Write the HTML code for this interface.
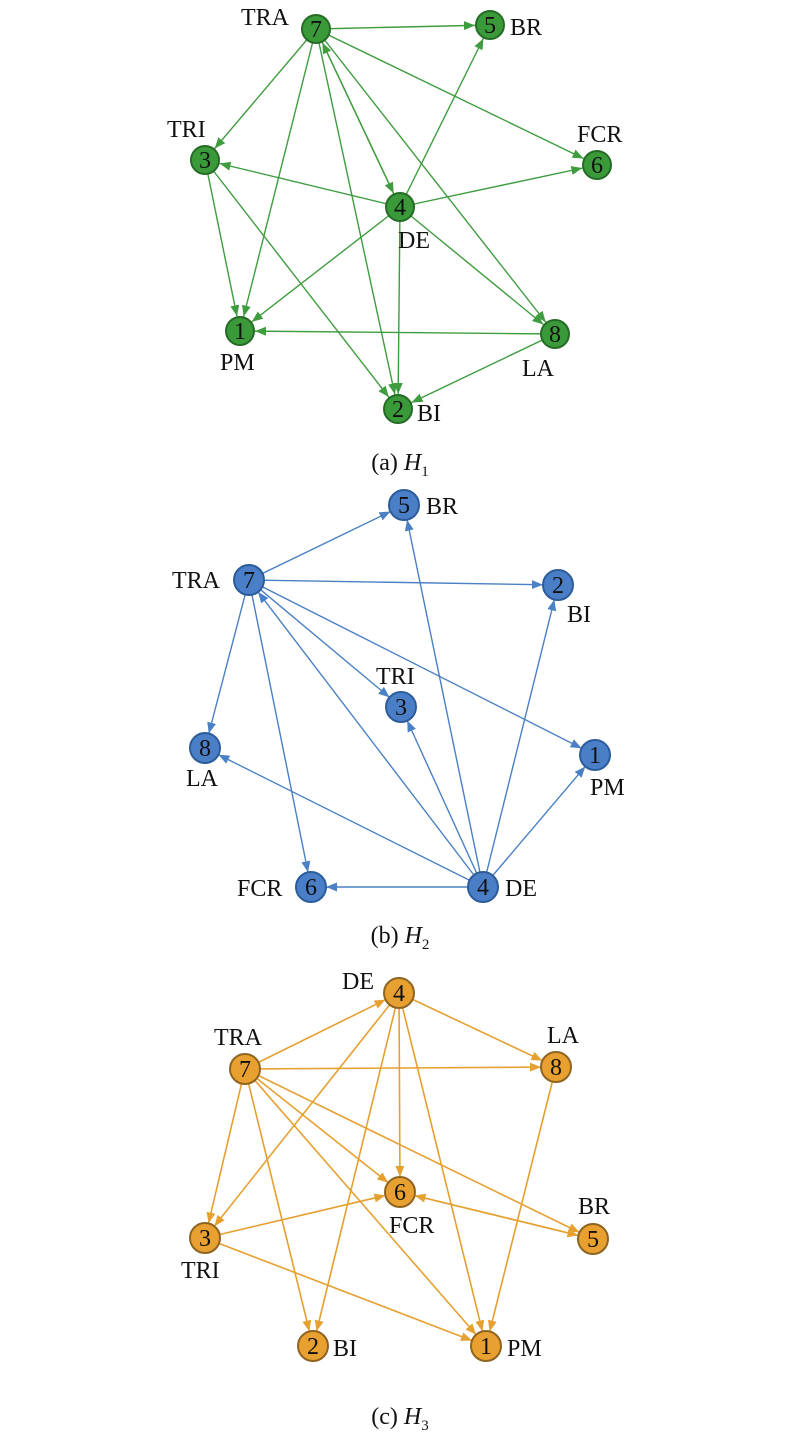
<!DOCTYPE html>
<html><head><meta charset="utf-8"><style>
html,body{margin:0;padding:0;background:#fff;}
svg{display:block;font-family:"Liberation Serif",serif;}
.g line{stroke:#3f9c3f;stroke-width:1.4;marker-end:url(#ag)}
.b line{stroke:#4a80c4;stroke-width:1.4;marker-end:url(#ab)}
.o line{stroke:#e6a030;stroke-width:1.6;marker-end:url(#ao)}
.g circle{fill:#3a9a3a;stroke:#256b25;stroke-width:2}
.b circle{fill:#4a7fc8;stroke:#2c5c9a;stroke-width:2}
.o circle{fill:#e8a030;stroke:#8f6420;stroke-width:2}
text{font-size:24px;fill:#111}
.n{text-anchor:middle;dominant-baseline:central;font-size:24px}
.c{text-anchor:middle}
</style></head><body>
<svg width="800" height="1441" viewBox="0 0 800 1441">
<defs>
<marker id="ag" markerUnits="userSpaceOnUse" markerWidth="40" markerHeight="12" refX="26" refY="4.5" orient="auto"><path d="M0,0 L11,4.5 L0,9 z" fill="#3f9c3f"/></marker>
<marker id="ab" markerUnits="userSpaceOnUse" markerWidth="40" markerHeight="12" refX="26" refY="4.5" orient="auto"><path d="M0,0 L11,4.5 L0,9 z" fill="#4a80c4"/></marker>
<marker id="ao" markerUnits="userSpaceOnUse" markerWidth="40" markerHeight="12" refX="26" refY="4.5" orient="auto"><path d="M0,0 L11,4.5 L0,9 z" fill="#e6a030"/></marker>
</defs>

<!-- H1 -->
<g class="g">
<line x1="316" y1="29" x2="490" y2="25"/>
<line x1="316" y1="29" x2="205" y2="160"/>
<line x1="316" y1="29" x2="240" y2="331"/>
<line x1="316" y1="29" x2="398" y2="409"/>
<line x1="316" y1="29" x2="400" y2="207"/>
<line x1="400" y1="207" x2="316" y2="29"/>
<line x1="316" y1="29" x2="597" y2="165"/>
<line x1="316" y1="29" x2="555" y2="334"/>
<line x1="400" y1="207" x2="490" y2="25"/>
<line x1="400" y1="207" x2="205" y2="160"/>
<line x1="400" y1="207" x2="597" y2="165"/>
<line x1="400" y1="207" x2="240" y2="331"/>
<line x1="400" y1="207" x2="398" y2="409"/>
<line x1="400" y1="207" x2="555" y2="334"/>
<line x1="205" y1="160" x2="240" y2="331"/>
<line x1="205" y1="160" x2="398" y2="409"/>
<line x1="555" y1="334" x2="240" y2="331"/>
<line x1="555" y1="334" x2="398" y2="409"/>
<circle cx="316" cy="29" r="14"/><text class="n" x="316" y="30">7</text>
<circle cx="490" cy="25" r="14"/><text class="n" x="490" y="26">5</text>
<circle cx="205" cy="160" r="14"/><text class="n" x="205" y="161">3</text>
<circle cx="597" cy="165" r="14"/><text class="n" x="597" y="166">6</text>
<circle cx="400" cy="207" r="14"/><text class="n" x="400" y="208">4</text>
<circle cx="240" cy="331" r="14"/><text class="n" x="240" y="332">1</text>
<circle cx="555" cy="334" r="14"/><text class="n" x="555" y="335">8</text>
<circle cx="398" cy="409" r="14"/><text class="n" x="398" y="410">2</text>
</g>
<text x="241" y="25">TRA</text>
<text x="510" y="35">BR</text>
<text x="167" y="137">TRI</text>
<text x="577" y="142">FCR</text>
<text x="398" y="248">DE</text>
<text x="220" y="370">PM</text>
<text x="522" y="376">LA</text>
<text x="417" y="421">BI</text>
<text class="c" x="400" y="470">(a) <tspan font-style="italic">H</tspan><tspan font-size="15" dy="6">1</tspan></text>

<!-- H2 -->
<g class="b">
<line x1="249" y1="580" x2="404" y2="505"/>
<line x1="249" y1="580" x2="558" y2="585"/>
<line x1="249" y1="580" x2="401" y2="707"/>
<line x1="249" y1="580" x2="595" y2="755"/>
<line x1="249" y1="580" x2="205" y2="748"/>
<line x1="249" y1="580" x2="311" y2="887"/>
<line x1="483" y1="887" x2="249" y2="580"/>
<line x1="483" y1="887" x2="404" y2="505"/>
<line x1="483" y1="887" x2="558" y2="585"/>
<line x1="483" y1="887" x2="401" y2="707"/>
<line x1="483" y1="887" x2="595" y2="755"/>
<line x1="483" y1="887" x2="205" y2="748"/>
<line x1="483" y1="887" x2="311" y2="887"/>
<circle cx="404" cy="505" r="15"/><text class="n" x="404" y="506">5</text>
<circle cx="249" cy="580" r="15"/><text class="n" x="249" y="581">7</text>
<circle cx="558" cy="585" r="15"/><text class="n" x="558" y="586">2</text>
<circle cx="401" cy="707" r="15"/><text class="n" x="401" y="708">3</text>
<circle cx="205" cy="748" r="15"/><text class="n" x="205" y="749">8</text>
<circle cx="595" cy="755" r="15"/><text class="n" x="595" y="756">1</text>
<circle cx="311" cy="887" r="15"/><text class="n" x="311" y="888">6</text>
<circle cx="483" cy="887" r="15"/><text class="n" x="483" y="888">4</text>
</g>
<text x="426" y="514">BR</text>
<text x="172" y="588">TRA</text>
<text x="567" y="622">BI</text>
<text x="376" y="684">TRI</text>
<text x="186" y="786">LA</text>
<text x="590" y="795">PM</text>
<text x="237" y="896">FCR</text>
<text x="505" y="896">DE</text>
<text class="c" x="400" y="943">(b) <tspan font-style="italic">H</tspan><tspan font-size="15" dy="6">2</tspan></text>

<!-- H3 -->
<g class="o">
<line x1="245" y1="1069" x2="399" y2="993"/>
<line x1="245" y1="1069" x2="556" y2="1067"/>
<line x1="245" y1="1069" x2="205" y2="1238"/>
<line x1="245" y1="1069" x2="313" y2="1346"/>
<line x1="245" y1="1069" x2="400" y2="1192"/>
<line x1="245" y1="1069" x2="486" y2="1346"/>
<line x1="245" y1="1069" x2="593" y2="1239"/>
<line x1="399" y1="993" x2="556" y2="1067"/>
<line x1="399" y1="993" x2="205" y2="1238"/>
<line x1="399" y1="993" x2="313" y2="1346"/>
<line x1="399" y1="993" x2="400" y2="1192"/>
<line x1="399" y1="993" x2="486" y2="1346"/>
<line x1="205" y1="1238" x2="400" y2="1192"/>
<line x1="205" y1="1238" x2="486" y2="1346"/>
<line x1="593" y1="1239" x2="400" y2="1192"/>
<line x1="400" y1="1192" x2="593" y2="1239"/>
<line x1="556" y1="1067" x2="486" y2="1346"/>
<circle cx="399" cy="993" r="15"/><text class="n" x="399" y="994">4</text>
<circle cx="245" cy="1069" r="15"/><text class="n" x="245" y="1070">7</text>
<circle cx="556" cy="1067" r="15"/><text class="n" x="556" y="1068">8</text>
<circle cx="400" cy="1192" r="15"/><text class="n" x="400" y="1193">6</text>
<circle cx="205" cy="1238" r="15"/><text class="n" x="205" y="1239">3</text>
<circle cx="593" cy="1239" r="15"/><text class="n" x="593" y="1240">5</text>
<circle cx="313" cy="1346" r="15"/><text class="n" x="313" y="1347">2</text>
<circle cx="486" cy="1346" r="15"/><text class="n" x="486" y="1347">1</text>
</g>
<text x="342" y="989">DE</text>
<text x="214" y="1045">TRA</text>
<text x="547" y="1043">LA</text>
<text x="389" y="1233">FCR</text>
<text x="578" y="1214">BR</text>
<text x="181" y="1278">TRI</text>
<text x="333" y="1356">BI</text>
<text x="507" y="1356">PM</text>
<text class="c" x="400" y="1424">(c) <tspan font-style="italic">H</tspan><tspan font-size="15" dy="6">3</tspan></text>
</svg>
</body></html>
